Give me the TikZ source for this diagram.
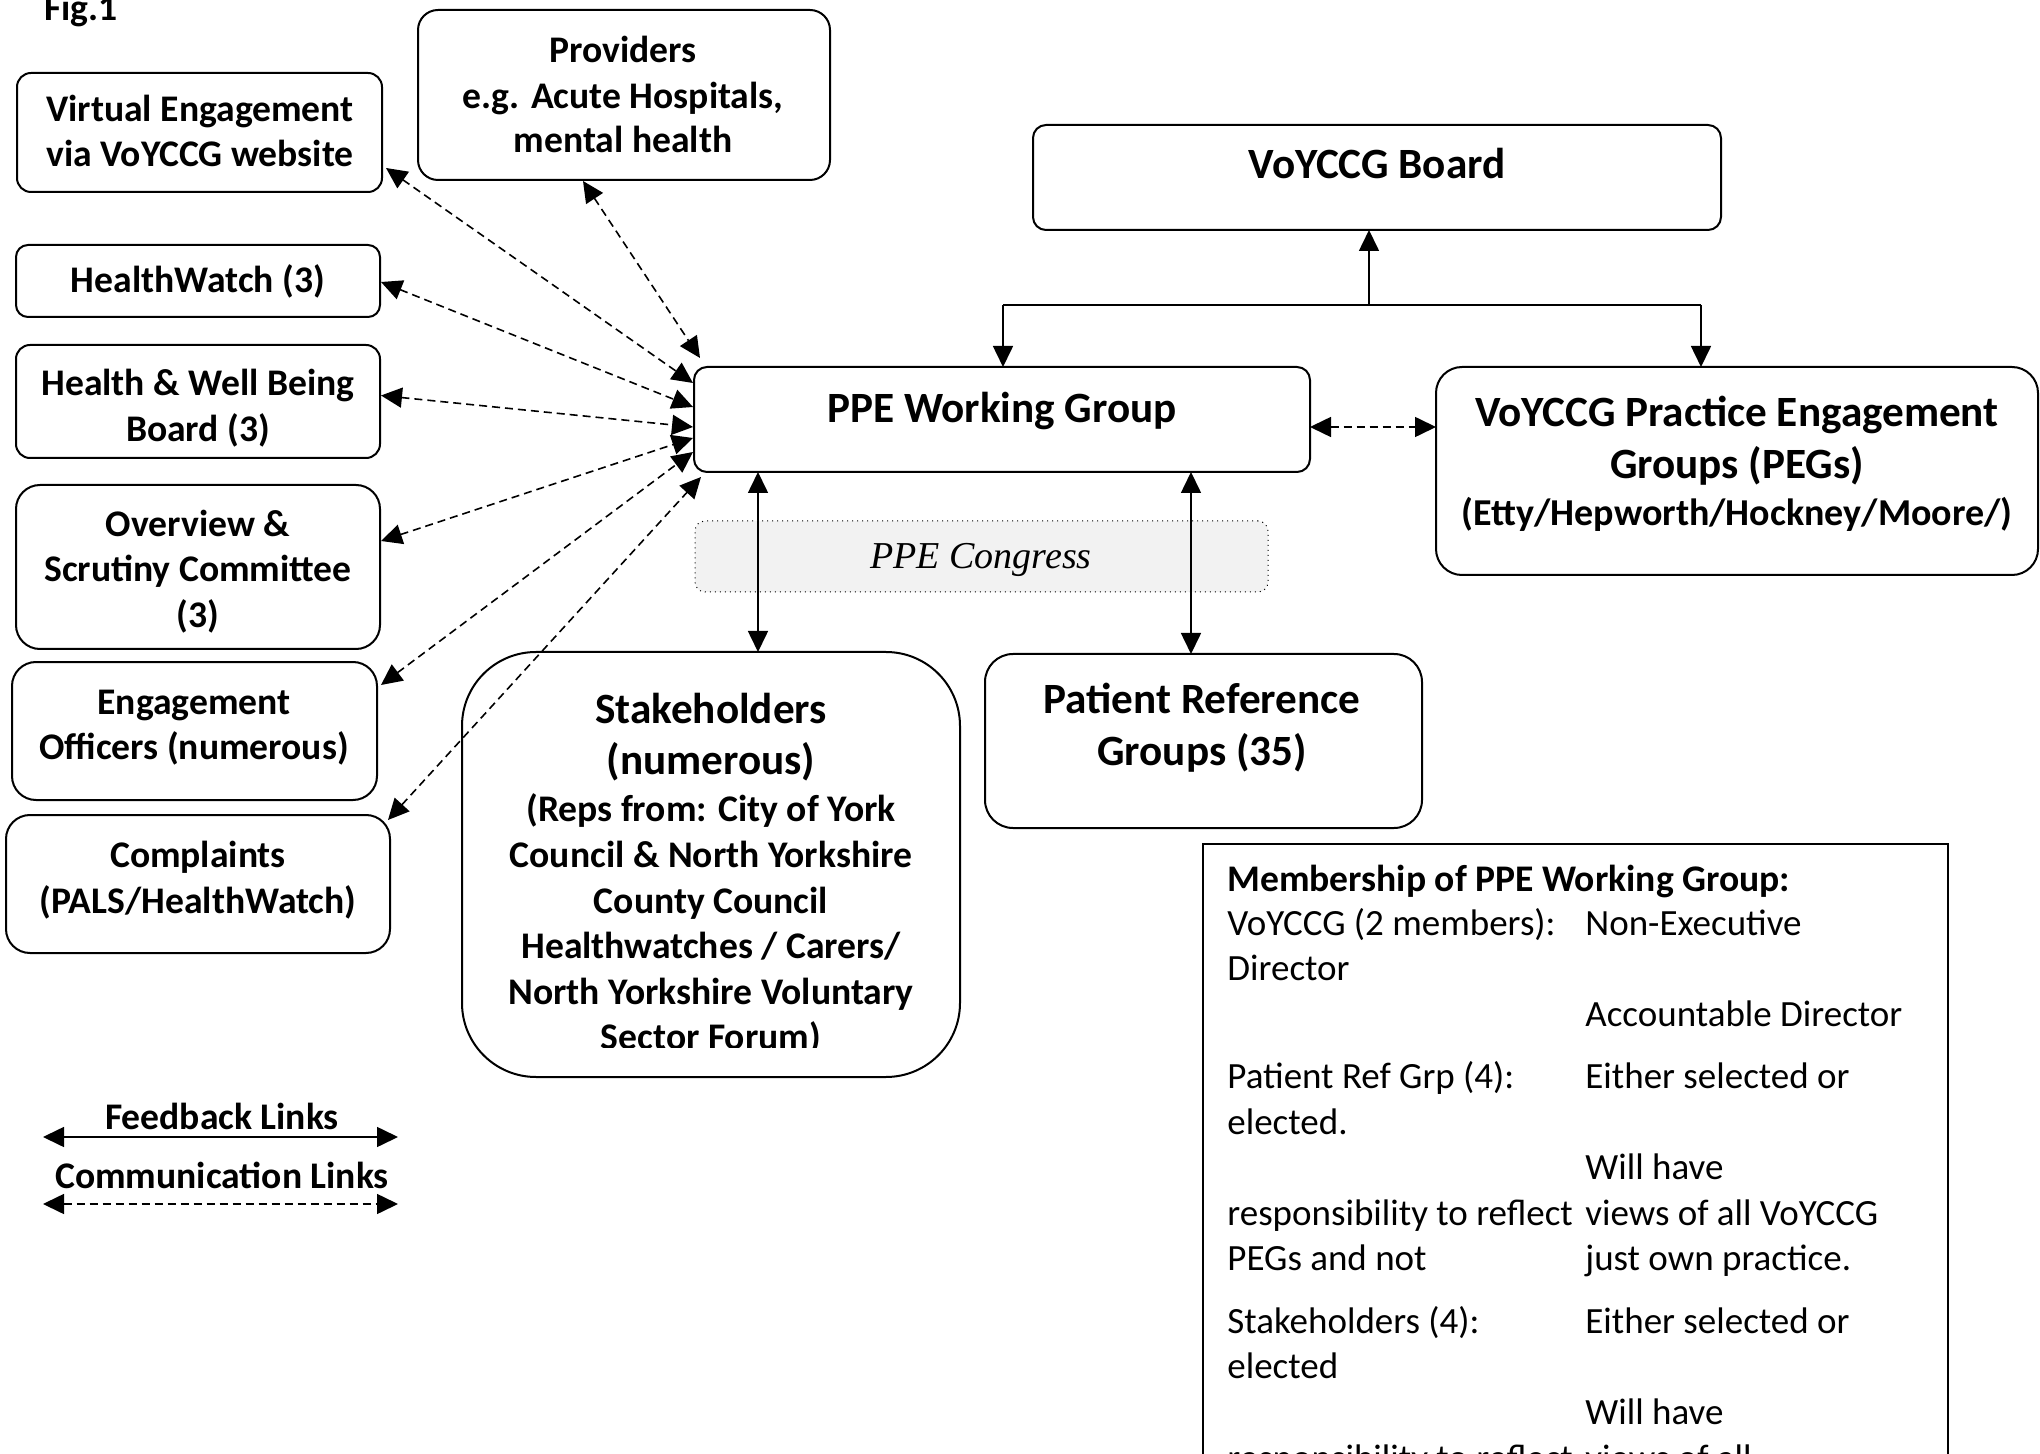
\documentclass[tikz,border=0pt]{standalone}
\usepackage{fontspec}
\setmainfont{Carlito}
\newfontfamily\congressfont{Liberation Serif}
\usetikzlibrary{arrows.meta,fit,calc}
\begin{document}
\begin{tikzpicture}[x=0.5pt,y=-0.5pt,
  boxx/.style={draw, line width=1pt, inner sep=0pt, outer sep=0pt, rounded corners=#1},
  bxviii/.style={font=\fontsize{18.8}{22}\selectfont\bfseries, anchor=base, inner sep=0pt},
  bxx/.style={font=\fontsize{21.6}{26}\selectfont\bfseries, anchor=base, inner sep=0pt},
  bwxviii/.style={font=\fontsize{18.8}{22}\selectfont\bfseries, anchor=base west, inner sep=0pt},
  rxviii/.style={font=\fontsize{18.5}{22}\selectfont, anchor=base west, inner sep=0pt},
  mytip/.tip={Triangle[length=10.5pt,width=10pt]},
  fblink/.style={mytip-mytip, line width=0.8pt},
  commlink/.style={mytip-mytip, line width=0.8pt, dash pattern=on 4pt off 2.5pt},
  onearrow/.style={-mytip, line width=0.8pt},
  plainline/.style={line width=0.8pt}]
\useasboundingbox (0,0) rectangle (2040,1454);
\clip (0,0) rectangle (2040,1454);

% title
\node[bwxviii] (fig) at (44,21) {Fig.1};

% left boxes
\node[boxx=7pt, fit={(17,73)(382,192)}] (virt) {};
\node[bxviii] (virt1) at (200,122) {Virtual Engagement};
\node[bxviii] (virt2) at (200,167) {via VoYCCG website};

\node[boxx=10pt, fit={(418,10)(830,180)}] (prov) {};
\node[bxviii] (prov1) at (623,63) {Providers};
\node[bxviii] (prov2) at (623,109) {e.g. Acute Hospitals,};
\node[bxviii] (prov3) at (623,153) {mental health};

\node[boxx=6pt, fit={(16,245)(380,317)}] (hw) {};
\node[bxviii] (hw1) at (198,293) {HealthWatch (3)};

\node[boxx=7pt, fit={(16,345)(380,458)}] (hwb) {};
\node[bxviii] (hwb1) at (198,396) {Health \& Well Being};
\node[bxviii] (hwb2) at (198,442) {Board (3)};

\node[boxx=12pt, fit={(16,485)(380,649)}] (ovs) {};
\node[bxviii] (ovs1) at (198,537) {Overview \&};
\node[bxviii] (ovs2) at (198,582) {Scrutiny Committee};
\node[bxviii] (ovs3) at (198,628) {(3)};

\node[boxx=12pt, fit={(12,662)(377,800)}] (eng) {};
\node[bxviii] (eng1) at (194,714) {Engagement};
\node[bxviii] (eng2) at (194,759) {Officers (numerous)};

\node[boxx=12pt, fit={(6,815)(390,953)}] (comp) {};
\node[bxviii] (comp1) at (198,867) {Complaints};
\node[bxviii] (comp2) at (198,913) {(PALS/HealthWatch)};

% central boxes
\node[boxx=6.5pt, fit={(1033,125)(1721,230)}] (board) {};
\node[bxx] (board1) at (1377,179) {VoYCCG Board};

\node[boxx=6.5pt, fit={(694,367)(1310,472)}] (ppe) {};
\node[bxx] (ppe1) at (1002,423) {PPE Working Group};

\node[boxx=13pt, fit={(1436,367)(2038,575)}] (peg) {};
\node[bxx] (peg1) at (1737,427) {VoYCCG Practice Engagement};
\node[bxx] (peg2) at (1737,479) {Groups (PEGs)};
\node[font=\fontsize{19}{22}\selectfont\bfseries, anchor=base, inner sep=0pt] (peg3) at (1737,526) {(Etty/Hepworth/Hockney/Moore/)};

\node[draw, dotted, line width=0.5pt, fill=black!5, inner sep=0pt, outer sep=0pt, rounded corners=5pt, fit={(695,521)(1268,592)}] (cong) {};
\node[font=\fontsize{19}{22}\selectfont\congressfont\itshape, anchor=base, inner sep=0pt] (cong1) at (981,569) {PPE Congress};

\node[boxx=37pt, fit={(462,652)(960,1077)}] (stake) {};
\begin{scope}
\clip (462,652) rectangle (960,1047);
\node[bxx] (st1) at (711,723) {Stakeholders};
\node[bxx] (st2) at (711,774) {(numerous)};
\node[bxviii] (st3) at (711,821) {(Reps from: City of York};
\node[bxviii] (st4) at (711,867) {Council \& North Yorkshire};
\node[bxviii] (st5) at (711,913) {County Council};
\node[bxviii] (st6) at (711,958) {Healthwatches / Carers/};
\node[bxviii] (st7) at (711,1004) {North Yorkshire Voluntary};
\node[bxviii] (st8) at (711,1049) {Sector Forum)};
\end{scope}

\node[boxx=14pt, fit={(985,654)(1422,828)}] (pat) {};
\node[bxx] (pat1) at (1202,713) {Patient Reference};
\node[bxx] (pat2) at (1202,765) {Groups (35)};

% membership box
\node[draw, line width=0.8pt, inner sep=0pt, outer sep=0pt, fit={(1203,844)(1948,1480)}] (mem) {};
\node[bwxviii] (m0) at (1227,891) {Membership of PPE Working Group:};
\node[rxviii] (m1a) at (1227,935) {VoYCCG (2 members):};
\node[rxviii] (m1b) at (1585,935) {Non-Executive};
\node[rxviii] (m2a) at (1227,980) {Director};
\node[rxviii] (m3b) at (1585,1026) {Accountable Director};
\node[rxviii] (m4a) at (1227,1088) {Patient Ref Grp (4):};
\node[rxviii] (m4b) at (1585,1088) {Either selected or};
\node[rxviii] (m5a) at (1227,1134) {elected.};
\node[rxviii] (m6b) at (1585,1179) {Will have};
\node[rxviii] (m7a) at (1227,1225) {responsibility to reflect};
\node[rxviii] (m7b) at (1585,1225) {views of all VoYCCG};
\node[rxviii] (m8a) at (1227,1270) {PEGs and not};
\node[rxviii] (m8b) at (1585,1270) {just own practice.};
\node[rxviii] (m9a) at (1227,1333) {Stakeholders (4):};
\node[rxviii] (m9b) at (1585,1333) {Either selected or};
\node[rxviii] (m10a) at (1227,1378) {elected};
\node[rxviii] (m11b) at (1585,1424) {Will have};
\node[rxviii] (m12a) at (1227,1470) {responsibility to reflect};
\node[rxviii] (m12b) at (1585,1470) {views of all};

% board tree
\coordinate (jn) at (1369,305);
\draw[onearrow] (jn) -- (jn |- board.south);
\draw[plainline] ($(ppe.north west)+(309,-62)$) -- ($(peg.north west)+(265,-62)$);
\draw[onearrow] ($(ppe.north west)+(309,-62)$) -- ($(ppe.north west)+(309,0)$);
\draw[onearrow] ($(peg.north west)+(265,-62)$) -- ($(peg.north west)+(265,0)$);

% ppe links
\draw[commlink] ($(ppe.north east)+(0,60)$) -- ($(peg.north west)+(0,60)$);
\draw[fblink] ($(ppe.south west)+(64,0)$) -- ($(stake.north west)+(296,0)$);
\draw[fblink] ($(ppe.south west)+(497,0)$) -- ($(pat.north west)+(206,0)$);

% communication links to the left
\draw[commlink] ($(virt.south east)+(4,-24)$) -- ($(ppe.north west)+(-1,16)$);
\draw[commlink] ($(prov.south west)+(165,1)$) -- ($(ppe.north west)+(6,-9)$);
\draw[commlink] ($(hw.east)+(1,1)$) -- ($(ppe.north west)+(-1,40)$);
\draw[commlink] ($(hwb.east)+(1,-6)$) -- ($(ppe.north west)+(-1,60)$);
\draw[commlink] ($(ovs.east)+(1,-26)$) -- ($(ppe.north west)+(-1,71)$);
\draw[commlink] ($(eng.north east)+(4,23)$) -- ($(ppe.north west)+(-1,85)$);
\draw[commlink] ($(comp.north east)+(-2,5)$) -- ($(ppe.south west)+(7,5)$);

% legend
\node[bxviii] (legfb) at (222,1129) {Feedback Links};
\coordinate (fbL) at (43,1137);
\coordinate (fbR) at (398,1137);
\draw[fblink] (fbL) -- (fbR);
\node[bxviii] (legcm) at (222,1188) {Communication Links};
\coordinate (cmL) at (43,1204);
\coordinate (cmR) at (398,1204);
\draw[commlink] (cmL) -- (cmR);
\end{tikzpicture}
\end{document}
